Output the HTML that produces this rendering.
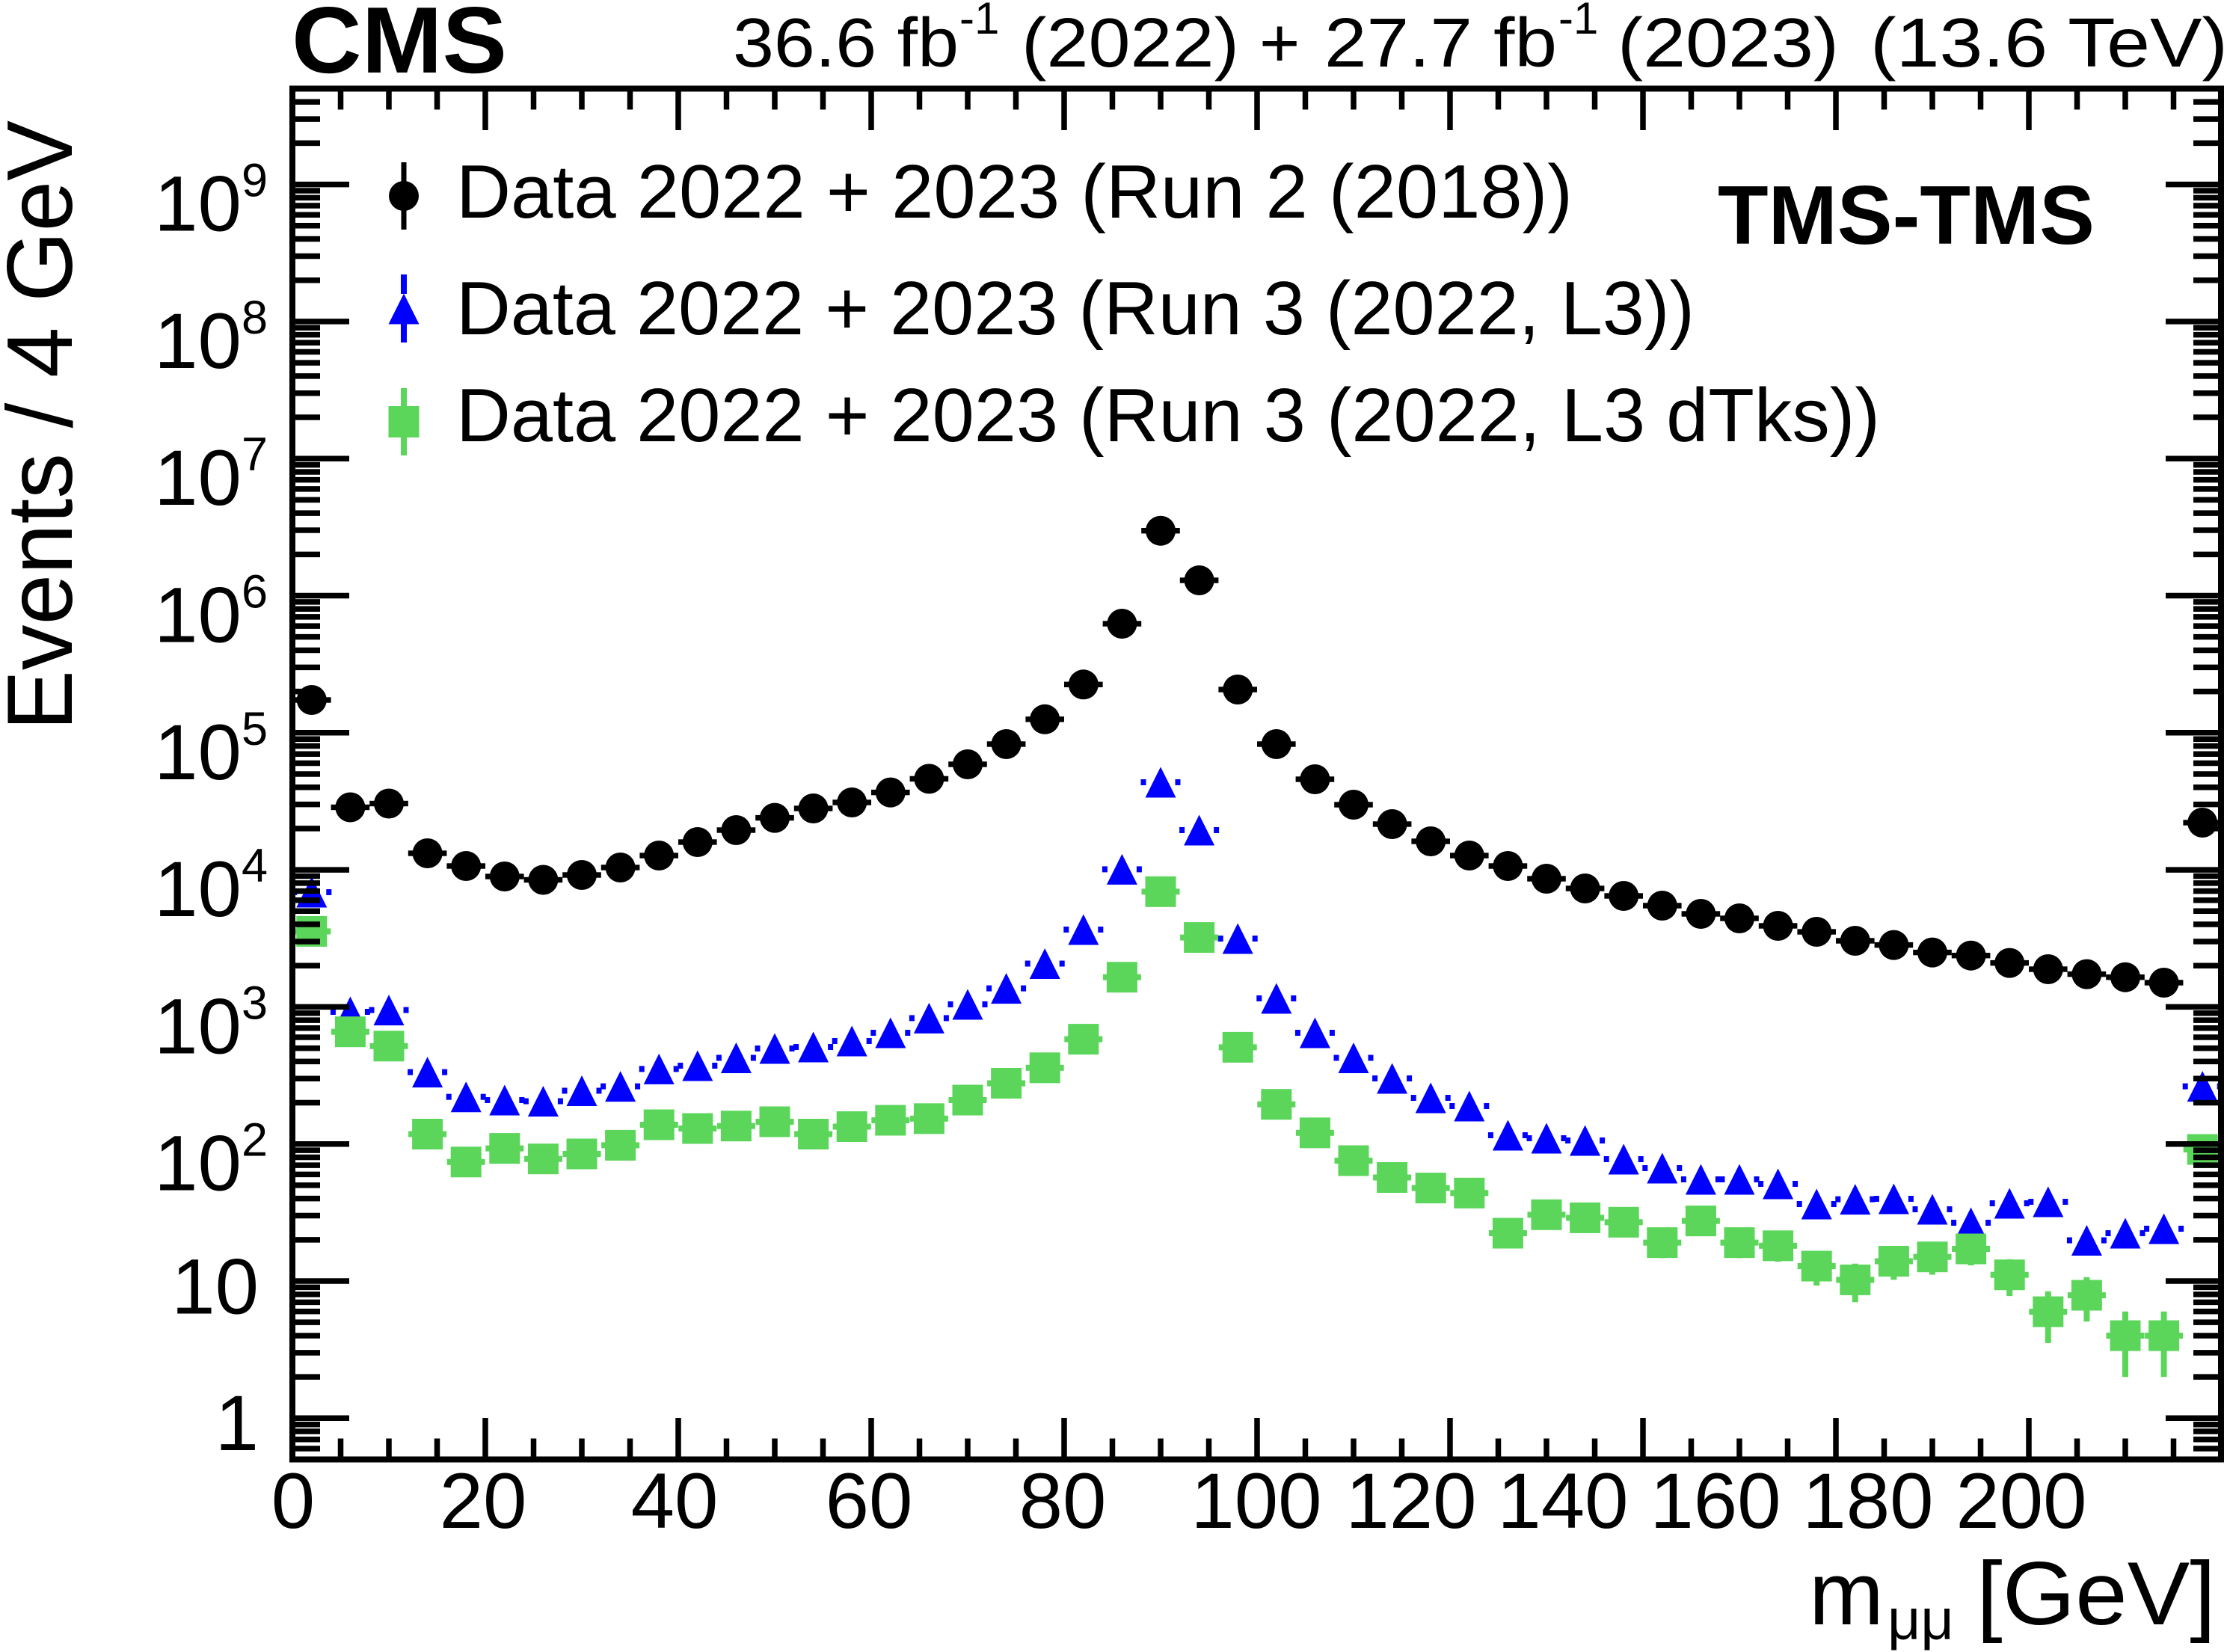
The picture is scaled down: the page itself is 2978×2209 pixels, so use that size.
<!DOCTYPE html>
<html>
<head>
<meta charset="utf-8">
<style>
html,body{margin:0;padding:0;background:#fff;}
svg{display:block;}
</style>
</head>
<body>
<svg xmlns="http://www.w3.org/2000/svg" width="2978" height="2209" viewBox="0 0 2978 2209" font-family="'Liberation Sans', Arial, Helvetica, sans-serif" fill="#000">
<defs>
<clipPath id="pc"><rect x="391" y="118.5" width="2579" height="1833"/></clipPath>
<path id="ym" d="M0 -55.18h37M0 -87.46h37M0 -110.36h37M0 -128.12h37M0 -142.64h37M0 -154.91h37M0 -165.54h37M0 -174.91h37" stroke="#000" stroke-width="7.5" fill="none"/>
<path id="xmin" d="M455.5 0v28M520 0v28M584.5 0v28M713.5 0v28M778 0v28M842.5 0v28M971.5 0v28M1036 0v28M1100.5 0v28M1229.5 0v28M1294 0v28M1358.5 0v28M1487.5 0v28M1552 0v28M1616.5 0v28M1745.5 0v28M1810 0v28M1874.5 0v28M2003.5 0v28M2068 0v28M2132.5 0v28M2261.5 0v28M2326 0v28M2390.5 0v28M2519.5 0v28M2584 0v28M2648.5 0v28M2777.5 0v28M2842 0v28M2906.5 0v28" stroke="#000" stroke-width="7.5" fill="none"/>
<path id="xmaj" d="M649 0v55.5M907 0v55.5M1165 0v55.5M1423 0v55.5M1681 0v55.5M1939 0v55.5M2197 0v55.5M2455 0v55.5M2713 0v55.5" stroke="#000" stroke-width="7.5" fill="none"/>
<g id="b"><rect x="-25.8" y="-3.7" width="51.6" height="7.4"/><circle r="20"/></g>
<g id="t" fill="#0000ff"><polygon points="0,-20.5 -20.5,20.5 20.5,20.5"/><rect x="-26.5" y="-4" width="7" height="8"/><rect x="19.5" y="-4" width="7" height="8"/></g>
<g id="s" fill="#5bd65b"><rect x="-20.5" y="-20.5" width="41" height="41"/><rect x="-25.5" y="-4" width="51" height="8"/></g>
</defs>

<text x="390" y="97" font-size="126" font-weight="bold" textLength="288" lengthAdjust="spacingAndGlyphs">CMS</text>
<text x="980" y="89" font-size="93" textLength="302" lengthAdjust="spacingAndGlyphs">36.6 fb</text>
<text x="1283" y="45" font-size="60">-1</text>
<text x="1366" y="89" font-size="93" textLength="291" lengthAdjust="spacingAndGlyphs">(2022)</text>
<text x="1684" y="89" font-size="93">+</text>
<text x="1771" y="89" font-size="93" textLength="311" lengthAdjust="spacingAndGlyphs">27.7 fb</text>
<text x="2084" y="45" font-size="60">-1</text>
<text x="2163" y="89" font-size="93" textLength="296" lengthAdjust="spacingAndGlyphs">(2023)</text>
<text x="2501" y="89" font-size="93" textLength="478" lengthAdjust="spacingAndGlyphs">(13.6 TeV)</text>

<text transform="translate(96,977) rotate(-90)" font-size="124" textLength="816" lengthAdjust="spacingAndGlyphs">Events / 4 GeV</text>
<text x="2419" y="2172" font-size="120">m</text>
<text x="2524" y="2192" font-size="77">μμ</text>
<text x="2643" y="2172" font-size="120" textLength="320" lengthAdjust="spacingAndGlyphs">[GeV]</text>

<g font-size="105" text-anchor="end">
<text x="358" y="308.6">10<tspan dy="-46" font-size="63">9</tspan></text>
<text x="358" y="491.9">10<tspan dy="-46" font-size="63">8</tspan></text>
<text x="358" y="675.2">10<tspan dy="-46" font-size="63">7</tspan></text>
<text x="358" y="858.5">10<tspan dy="-46" font-size="63">6</tspan></text>
<text x="358" y="1041.8">10<tspan dy="-46" font-size="63">5</tspan></text>
<text x="358" y="1225.1">10<tspan dy="-46" font-size="63">4</tspan></text>
<text x="358" y="1408.4">10<tspan dy="-46" font-size="63">3</tspan></text>
<text x="358" y="1591.7">10<tspan dy="-46" font-size="63">2</tspan></text>
<text x="346" y="1756.7">10</text>
<text x="346" y="1939">1</text>
</g>

<g font-size="105" text-anchor="middle">
<text x="392" y="2043">0</text>
<text x="646" y="2043">20</text>
<text x="902" y="2043">40</text>
<text x="1162" y="2043">60</text>
<text x="1421" y="2043">80</text>
<text x="1680" y="2043">100</text>
<text x="1887" y="2043">120</text>
<text x="2090" y="2043">140</text>
<text x="2294" y="2043">160</text>
<text x="2498" y="2043">180</text>
<text x="2703" y="2043">200</text>
</g>

<text x="2297" y="326" font-size="111" font-weight="bold" textLength="504" lengthAdjust="spacingAndGlyphs">TMS-TMS</text>

<rect x="536.5" y="217" width="7" height="90"/>
<circle cx="540" cy="262" r="20"/>
<g fill="#0000ff">
<rect x="536" y="367" width="8" height="26"/>
<rect x="536" y="433" width="8" height="25"/>
<polygon points="540,392.5 519.5,433.5 560.5,433.5"/>
</g>
<g fill="#5bd65b">
<rect x="536" y="519" width="8" height="90"/>
<rect x="519.5" y="543" width="41" height="42"/>
</g>
<g font-size="101">
<text x="610" y="291" textLength="1493" lengthAdjust="spacingAndGlyphs">Data 2022 + 2023 (Run 2 (2018))</text>
<text x="610" y="447" textLength="1656" lengthAdjust="spacingAndGlyphs">Data 2022 + 2023 (Run 3 (2022, L3))</text>
<text x="610" y="590" textLength="1904" lengthAdjust="spacingAndGlyphs">Data 2022 + 2023 (Run 3 (2022, L3 dTks))</text>
</g>

<g clip-path="url(#pc)">
<use href="#b" x="416.8" y="936"/>
<use href="#b" x="468.4" y="1079.5"/>
<use href="#b" x="520" y="1074.5"/>
<use href="#b" x="571.6" y="1141"/>
<use href="#b" x="623.2" y="1158"/>
<use href="#b" x="674.8" y="1172"/>
<use href="#b" x="726.4" y="1176.5"/>
<use href="#b" x="778" y="1170"/>
<use href="#b" x="829.6" y="1160"/>
<use href="#b" x="881.2" y="1144"/>
<use href="#b" x="932.8" y="1126"/>
<use href="#b" x="984.4" y="1110"/>
<use href="#b" x="1036" y="1093.6"/>
<use href="#b" x="1087.6" y="1081"/>
<use href="#b" x="1139.2" y="1073"/>
<use href="#b" x="1190.8" y="1059.6"/>
<use href="#b" x="1242.4" y="1041.4"/>
<use href="#b" x="1294" y="1022"/>
<use href="#b" x="1345.6" y="995"/>
<use href="#b" x="1397.2" y="961.8"/>
<use href="#b" x="1448.8" y="915.3"/>
<use href="#b" x="1500.4" y="834"/>
<use href="#b" x="1552" y="709.7"/>
<use href="#b" x="1603.6" y="776"/>
<use href="#b" x="1655.2" y="922"/>
<use href="#b" x="1706.8" y="995"/>
<use href="#b" x="1758.4" y="1042"/>
<use href="#b" x="1810" y="1076"/>
<use href="#b" x="1861.6" y="1102"/>
<use href="#b" x="1913.2" y="1125"/>
<use href="#b" x="1964.8" y="1144"/>
<use href="#b" x="2016.4" y="1158"/>
<use href="#b" x="2068" y="1175"/>
<use href="#b" x="2119.6" y="1188"/>
<use href="#b" x="2171.2" y="1198"/>
<use href="#b" x="2222.8" y="1211"/>
<use href="#b" x="2274.4" y="1222"/>
<use href="#b" x="2326" y="1228"/>
<use href="#b" x="2377.6" y="1238"/>
<use href="#b" x="2429.2" y="1246"/>
<use href="#b" x="2480.8" y="1258"/>
<use href="#b" x="2532.4" y="1263.6"/>
<use href="#b" x="2584" y="1273.6"/>
<use href="#b" x="2635.6" y="1277.7"/>
<use href="#b" x="2687.2" y="1287.6"/>
<use href="#b" x="2738.8" y="1296"/>
<use href="#b" x="2790.4" y="1302.6"/>
<use href="#b" x="2842" y="1306.7"/>
<use href="#b" x="2893.6" y="1314"/>
<use href="#b" x="2945.2" y="1100"/>

<use href="#t" x="416.8" y="1193"/>
<use href="#t" x="468.4" y="1353"/>
<use href="#t" x="520" y="1350.6"/>
<use href="#t" x="571.6" y="1433.6"/>
<use href="#t" x="623.2" y="1466.7"/>
<use href="#t" x="674.8" y="1471"/>
<use href="#t" x="726.4" y="1472.5"/>
<use href="#t" x="778" y="1458.5"/>
<use href="#t" x="829.6" y="1452.6"/>
<use href="#t" x="881.2" y="1429.4"/>
<use href="#t" x="932.8" y="1425"/>
<use href="#t" x="984.4" y="1414.5"/>
<use href="#t" x="1036" y="1402"/>
<use href="#t" x="1087.6" y="1400"/>
<use href="#t" x="1139.2" y="1392"/>
<use href="#t" x="1190.8" y="1381"/>
<use href="#t" x="1242.4" y="1361.4"/>
<use href="#t" x="1294" y="1343"/>
<use href="#t" x="1345.6" y="1321.6"/>
<use href="#t" x="1397.2" y="1288.5"/>
<use href="#t" x="1448.8" y="1243"/>
<use href="#t" x="1500.4" y="1162.4"/>
<use href="#t" x="1552" y="1046"/>
<use href="#t" x="1603.6" y="1110"/>
<use href="#t" x="1655.2" y="1255"/>
<use href="#t" x="1706.8" y="1335"/>
<use href="#t" x="1758.4" y="1381"/>
<use href="#t" x="1810" y="1414.5"/>
<use href="#t" x="1861.6" y="1442"/>
<use href="#t" x="1913.2" y="1468"/>
<use href="#t" x="1964.8" y="1479"/>
<use href="#t" x="2016.4" y="1518"/>
<use href="#t" x="2068" y="1522"/>
<use href="#t" x="2119.6" y="1525"/>
<use href="#t" x="2171.2" y="1550"/>
<use href="#t" x="2222.8" y="1562"/>
<use href="#t" x="2274.4" y="1577"/>
<use href="#t" x="2326" y="1577"/>
<use href="#t" x="2377.6" y="1583"/>
<use href="#t" x="2429.2" y="1610"/>
<use href="#t" x="2480.8" y="1603.6"/>
<use href="#t" x="2532.4" y="1603"/>
<use href="#t" x="2584" y="1617"/>
<use href="#t" x="2635.6" y="1635"/>
<use href="#t" x="2687.2" y="1609"/>
<use href="#t" x="2738.8" y="1607"/>
<use href="#t" x="2790.4" y="1658.5"/>
<use href="#t" x="2842" y="1649"/>
<use href="#t" x="2893.6" y="1643"/>
<use href="#t" x="2945.2" y="1452.6"/>

<g fill="#5bd65b">
<rect x="2218.8" y="1645.2" width="8" height="37.1"/>
<rect x="2322" y="1645.2" width="8" height="37.1"/>
<rect x="2373.6" y="1649" width="8" height="38.1"/>
<rect x="2425.2" y="1673.4" width="8" height="45.6"/>
<rect x="2476.8" y="1689.7" width="8" height="51.6"/>
<rect x="2528.4" y="1667.6" width="8" height="43.7"/>
<rect x="2580" y="1662.4" width="8" height="42.1"/>
<rect x="2631.6" y="1652.8" width="8" height="39.2"/>
<rect x="2683.2" y="1683.8" width="8" height="49.3"/>
<rect x="2734.8" y="1726.7" width="8" height="69.2"/>
<rect x="2786.4" y="1707.7" width="8" height="59.4"/>
<rect x="2838" y="1753.7" width="8" height="87.5"/>
<rect x="2889.6" y="1753.7" width="8" height="87.5"/>
</g>

<use href="#s" x="416.8" y="1245.4"/>
<use href="#s" x="468.4" y="1379.7"/>
<use href="#s" x="520" y="1398.8"/>
<use href="#s" x="571.6" y="1516.5"/>
<use href="#s" x="623.2" y="1553.8"/>
<use href="#s" x="674.8" y="1535.6"/>
<use href="#s" x="726.4" y="1549.7"/>
<use href="#s" x="778" y="1543"/>
<use href="#s" x="829.6" y="1531.4"/>
<use href="#s" x="881.2" y="1504"/>
<use href="#s" x="932.8" y="1509"/>
<use href="#s" x="984.4" y="1505.7"/>
<use href="#s" x="1036" y="1500"/>
<use href="#s" x="1087.6" y="1516.5"/>
<use href="#s" x="1139.2" y="1506.5"/>
<use href="#s" x="1190.8" y="1498"/>
<use href="#s" x="1242.4" y="1495.8"/>
<use href="#s" x="1294" y="1471"/>
<use href="#s" x="1345.6" y="1448.5"/>
<use href="#s" x="1397.2" y="1427.8"/>
<use href="#s" x="1448.8" y="1389.6"/>
<use href="#s" x="1500.4" y="1306.7"/>
<use href="#s" x="1552" y="1192.3"/>
<use href="#s" x="1603.6" y="1253.6"/>
<use href="#s" x="1655.2" y="1400.4"/>
<use href="#s" x="1706.8" y="1476.7"/>
<use href="#s" x="1758.4" y="1514.8"/>
<use href="#s" x="1810" y="1552"/>
<use href="#s" x="1861.6" y="1574.5"/>
<use href="#s" x="1913.2" y="1588.6"/>
<use href="#s" x="1964.8" y="1595.3"/>
<use href="#s" x="2016.4" y="1649"/>
<use href="#s" x="2068" y="1624.3"/>
<use href="#s" x="2119.6" y="1628.4"/>
<use href="#s" x="2171.2" y="1634.3"/>
<use href="#s" x="2222.8" y="1661.6"/>
<use href="#s" x="2274.4" y="1632.6"/>
<use href="#s" x="2326" y="1661.6"/>
<use href="#s" x="2377.6" y="1665.8"/>
<use href="#s" x="2429.2" y="1693"/>
<use href="#s" x="2480.8" y="1711.4"/>
<use href="#s" x="2532.4" y="1686.5"/>
<use href="#s" x="2584" y="1680.7"/>
<use href="#s" x="2635.6" y="1670"/>
<use href="#s" x="2687.2" y="1704.7"/>
<use href="#s" x="2738.8" y="1754"/>
<use href="#s" x="2790.4" y="1732"/>
<use href="#s" x="2842" y="1786"/>
<use href="#s" x="2893.6" y="1786"/>
<use href="#s" x="2945.2" y="1537"/>

<use href="#ym" transform="translate(391 2079.6)"/>
<use href="#ym" transform="translate(391 1896.3)"/>
<use href="#ym" transform="translate(391 1713)"/>
<use href="#ym" transform="translate(391 1529.7)"/>
<use href="#ym" transform="translate(391 1346.4)"/>
<use href="#ym" transform="translate(391 1163.1)"/>
<use href="#ym" transform="translate(391 979.8)"/>
<use href="#ym" transform="translate(391 796.5)"/>
<use href="#ym" transform="translate(391 613.2)"/>
<use href="#ym" transform="translate(391 429.9)"/>
<use href="#ym" transform="translate(391 246.6)"/>
<use href="#ym" transform="translate(2970 2079.6) scale(-1 1)"/>
<use href="#ym" transform="translate(2970 1896.3) scale(-1 1)"/>
<use href="#ym" transform="translate(2970 1713) scale(-1 1)"/>
<use href="#ym" transform="translate(2970 1529.7) scale(-1 1)"/>
<use href="#ym" transform="translate(2970 1346.4) scale(-1 1)"/>
<use href="#ym" transform="translate(2970 1163.1) scale(-1 1)"/>
<use href="#ym" transform="translate(2970 979.8) scale(-1 1)"/>
<use href="#ym" transform="translate(2970 796.5) scale(-1 1)"/>
<use href="#ym" transform="translate(2970 613.2) scale(-1 1)"/>
<use href="#ym" transform="translate(2970 429.9) scale(-1 1)"/>
<use href="#ym" transform="translate(2970 246.6) scale(-1 1)"/>
</g>

<path d="M391 1896.3h76M391 1713h76M391 1529.7h76M391 1346.4h76M391 1163.1h76M391 979.8h76M391 796.5h76M391 613.2h76M391 429.9h76M391 246.6h76M2970 1896.3h-74M2970 1713h-74M2970 1529.7h-74M2970 1346.4h-74M2970 1163.1h-74M2970 979.8h-74M2970 796.5h-74M2970 613.2h-74M2970 429.9h-74M2970 246.6h-74" stroke="#000" stroke-width="7.5" fill="none"/>

<use href="#xmin" transform="translate(0 118.5)"/>
<use href="#xmaj" transform="translate(0 118.5)"/>
<use href="#xmin" transform="translate(0 1951.5) scale(1 -1)"/>
<use href="#xmaj" transform="translate(0 1951.5) scale(1 -1)"/>

<rect x="391" y="118.5" width="2579" height="1833" fill="none" stroke="#000" stroke-width="8"/>
</svg>
</body>
</html>
